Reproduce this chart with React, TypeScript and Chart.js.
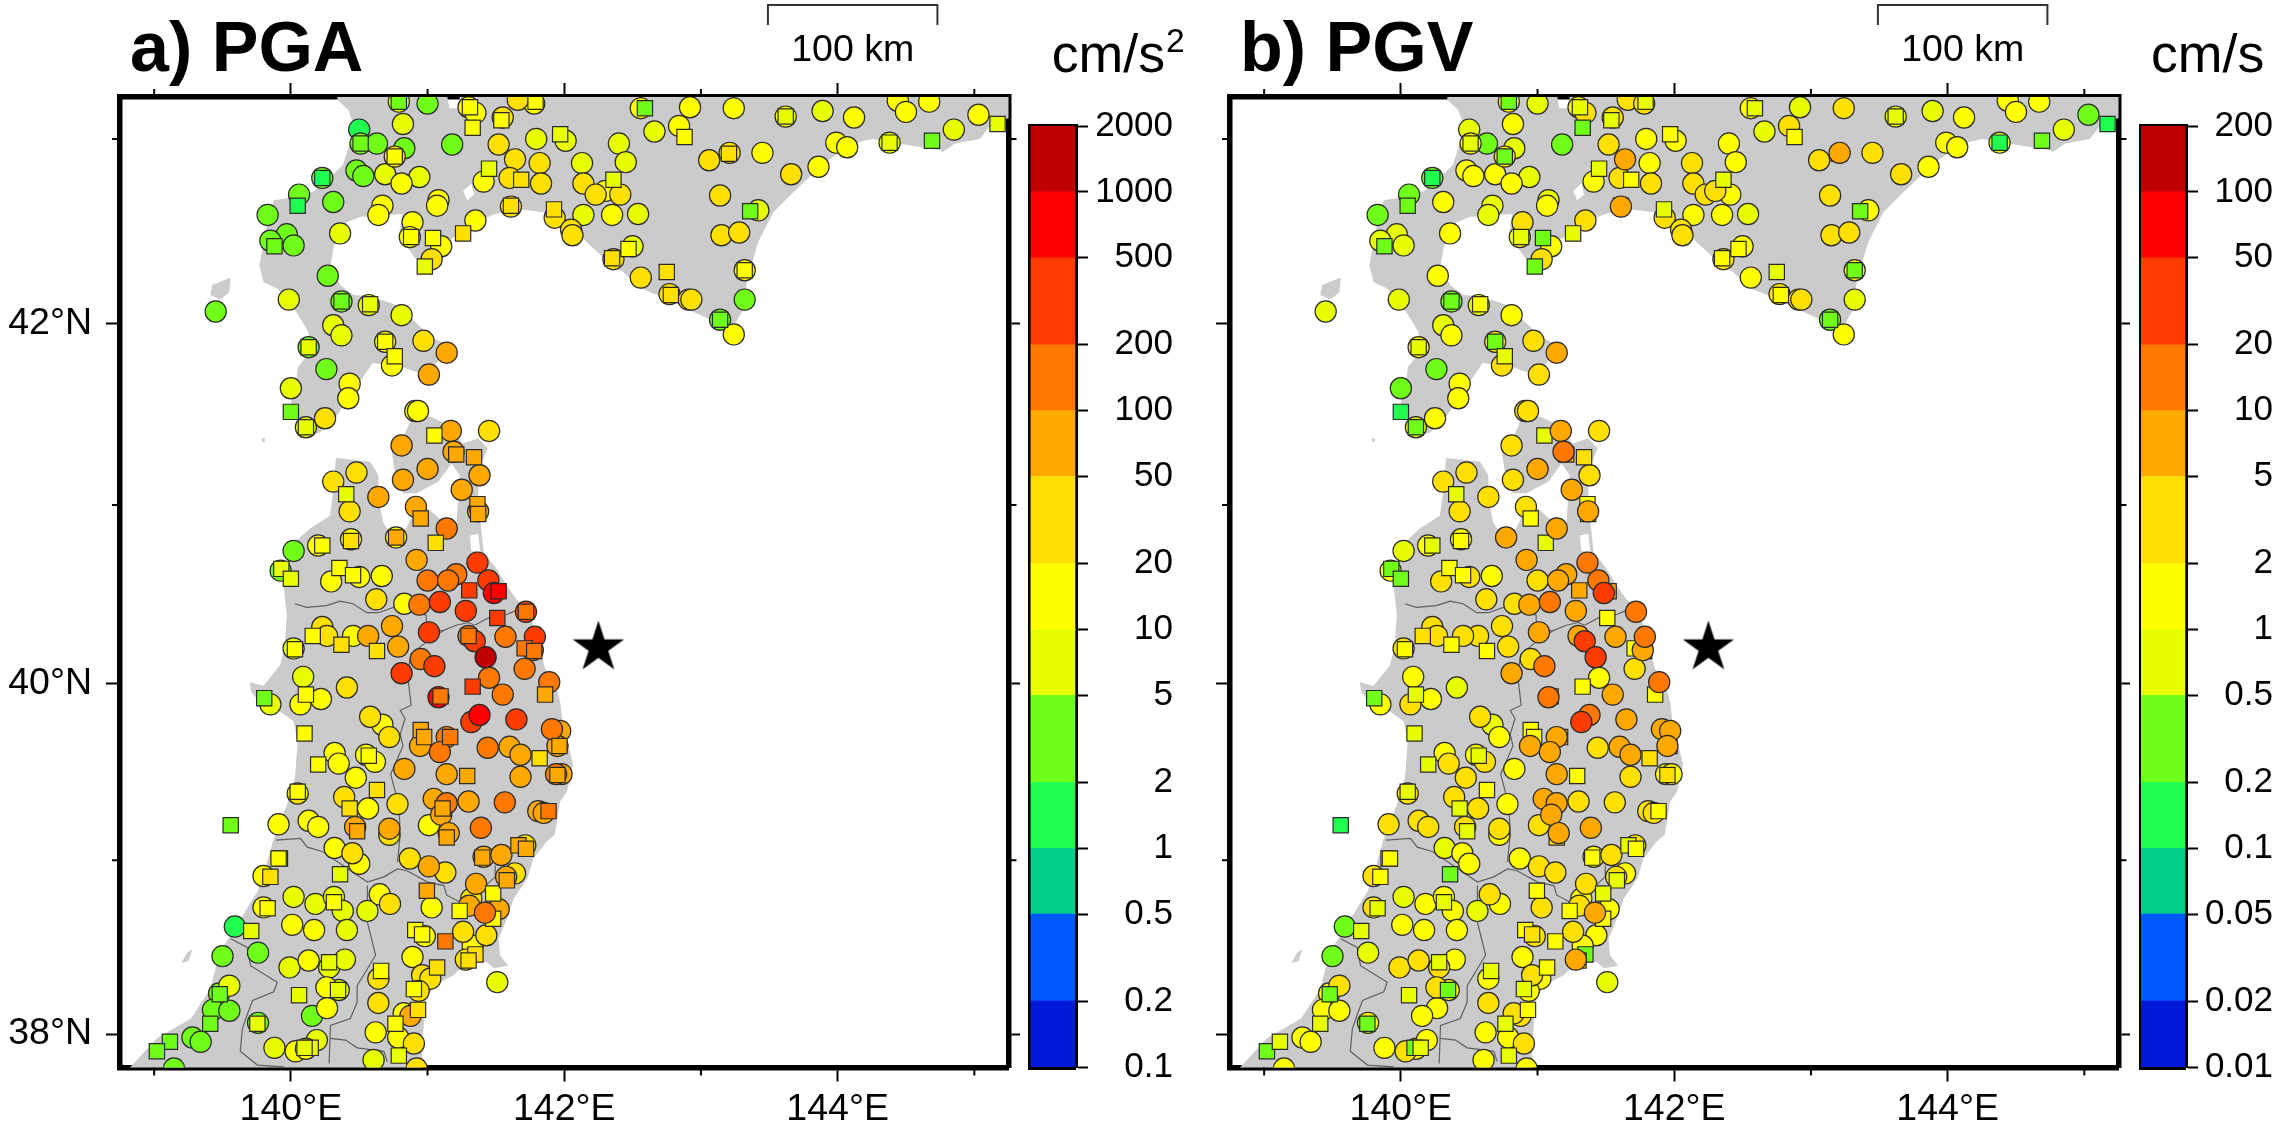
import React, { useEffect, useRef } from "react";
import { Chart, registerables } from "chart.js";

Chart.register(...registerables);

const FONT = '"Liberation Sans", Arial, Helvetica, sans-serif';

// ---- axes ----
const lonMin = 138.75, lonMax = 145.25;
const latMin = 37.806, latMax = 43.225;
const majorLons = [140, 142, 144];
const minorLons = [139, 141, 143, 145];
const majorLats = [38, 40, 42];
const minorLats = [39, 41, 43];

// ---- colour scale ----
const bandColors = ["#0018d8", "#0058ff", "#00d08c", "#20ff50", "#70ff18", "#e8ff00", "#ffff00", "#ffe000", "#ffa800", "#ff7800", "#ff3c00", "#ff0000", "#c00000"];
const pgaTicks = [0.1, 0.2, 0.5, 1, 2, 5, 10, 20, 50, 100, 200, 500, 1000, 2000];
const pgvTicks = [0.01, 0.02, 0.05, 0.1, 0.2, 0.5, 1, 2, 5, 10, 20, 50, 100, 200];

// ---- epicentre and scale bar ----
const starLon = 142.25, starLat = 40.21;
const scaleBarLons = [143.49, 144.73];

// ---- stations ----
const stationLons = [
140.79,140.79,141.00,140.82,141.30,141.35,141.31,141.33,141.55,141.54,
141.66,141.78,141.79,141.18,140.50,140.51,140.51,140.63,140.83,140.76,
140.76,141.52,141.795,142.01,141.97,142.40,142.13,142.45,141.64,141.82,
141.45,141.41,141.60,141.685,141.83,142.14,142.36,142.23,142.30,142.41,
142.35,142.54,142.14,141.61,141.61,141.925,141.93,142.05,142.06,142.36,
142.35,142.50,142.47,142.56,142.75,142.77,142.78,142.91,142.93,143.14,
143.14,143.24,143.32,143.32,143.32,143.36,143.42,143.14,143.15,143.28,
143.06,143.21,143.205,143.45,143.66,143.86,143.99,144.07,144.38,144.38,
144.69,144.85,145.03,145.17,144.67,144.44,144.50,144.12,143.89,143.62,
143.62,143.24,142.92,142.56,142.59,142.84,142.88,142.66,140.23,140.23,
140.06,140.05,140.31,139.83,139.97,139.85,140.02,139.88,140.36,140.48,
140.53,140.69,140.81,140.94,141.08,141.07,140.67,140.64,140.89,140.87,
140.88,141.04,141.10,141.03,140.98,141.26,141.35,140.27,139.985,140.37,
140.37,140.57,140.58,140.81,139.45,140.31,140.37,140.13,140.13,140.69,
140.69,140.97,141.14,141.01,140.74,140.76,140.26,140.00,140.43,140.42,
140.00,140.25,140.11,140.11,140.91,140.93,141.05,141.17,141.45,140.81,
141.19,141.21,141.34,141.00,140.82,141.38,141.25,141.37,141.365,141.37,
140.915,140.95,141.14,141.06,140.92,140.77,140.77,140.64,140.48,140.31,
140.405,140.43,140.44,140.44,140.20,140.23,140.02,139.925,139.93,140.00,
140.295,140.355,140.50,140.455,140.665,140.625,140.83,140.94,141.09,141.00,
141.21,141.15,141.365,141.445,141.485,141.52,141.305,141.28,141.51,141.72,
141.72,141.01,140.74,140.565,140.455,140.23,140.265,140.16,140.02,140.03,
140.37,140.63,140.785,140.95,141.05,140.81,141.30,141.345,141.30,141.425,
141.57,141.785,141.71,141.78,141.77,141.71,141.89,141.86,141.33,141.45,
141.55,141.08,141.095,141.38,141.32,141.65,141.91,141.97,141.95,141.965,
141.82,141.60,141.68,141.44,140.95,140.975,141.14,141.165,140.945,141.09,
140.58,140.67,140.72,140.41,140.09,140.11,140.07,140.22,139.85,139.805,
140.10,140.32,140.35,140.20,140.55,140.57,140.615,140.475,140.83,141.14,
141.29,141.68,141.95,141.94,141.98,140.05,140.05,140.39,140.43,140.565,
140.63,140.78,141.045,141.14,141.11,141.10,141.30,141.565,141.81,141.85,
141.885,141.39,139.56,139.91,140.13,140.20,140.47,140.485,140.72,140.72,
141.01,141.155,141.14,140.32,140.45,140.50,139.92,139.91,139.80,139.85,
140.36,140.87,141.01,141.13,141.41,141.40,141.54,141.665,141.72,141.715,
141.355,141.575,141.64,141.58,140.995,141.03,140.65,140.725,140.56,140.02,
140.18,140.315,140.315,140.38,139.80,139.83,141.48,141.32,141.305,141.42,
141.52,141.235,141.48,139.59,139.71,140.01,140.17,140.41,139.76,139.50,
140.91,140.96,140.98,141.13,141.26,141.43,141.33,141.35,141.28,141.30,
139.99,140.13,140.28,140.28,140.395,140.89,141.07,140.96,141.02,140.66,
140.64,139.55,139.475,139.48,140.26,140.345,140.35,140.06,140.265,140.155,
140.64,140.90,140.935,140.875,140.825,140.93,139.43,139.55,139.41,139.76,
139.755,139.28,139.34,139.115,139.02,139.145,139.88,140.035,140.11,140.145,
140.10,140.19,140.62,140.765,140.785,140.90,140.605,140.79,140.92,141.51,
];

const stationLats = [
43.20,43.20,43.19,43.08,43.17,43.14,43.17,43.06,43.115,43.10,
43.21,43.19,43.20,42.97,43.05,42.975,42.975,42.975,42.95,42.905,
42.905,42.97,43.00,42.99,43.025,42.975,42.87,42.875,42.89,42.87,
42.84,42.77,42.79,42.78,42.76,42.76,42.78,42.70,42.72,42.70,
42.59,42.595,42.59,42.635,42.64,42.62,42.575,42.51,42.48,42.35,
42.355,42.42,42.405,42.25,42.28,42.16,42.155,42.13,42.13,42.02,
42.02,41.94,42.13,42.29,42.29,42.61,42.615,42.695,42.48,42.495,
42.885,42.925,42.92,42.925,42.81,42.85,42.98,42.955,42.98,42.98,
42.99,43.05,43.13,43.08,43.20,43.205,43.145,43.115,43.15,43.12,
43.12,43.165,43.17,43.165,43.165,43.07,43.01,43.04,42.79,42.79,
42.70,42.64,42.66,42.59,42.485,42.45,42.425,42.42,42.49,42.83,
42.80,42.81,42.76,42.795,42.67,42.64,42.64,42.59,42.55,42.47,
42.47,42.465,42.42,42.35,42.31,42.49,42.56,42.26,42.13,42.12,
42.12,42.10,42.105,42.045,42.065,41.99,41.935,41.87,41.87,41.90,
41.90,41.905,41.84,41.72,41.77,41.82,41.75,41.645,41.67,41.59,
41.515,41.48,41.43,41.43,41.52,41.52,41.385,41.41,41.41,41.33,
41.295,41.28,41.265,41.20,41.14,41.165,41.085,40.965,41.005,40.95,
40.99,40.925,40.87,40.79,40.695,40.82,40.82,41.045,41.18,41.13,
41.06,40.965,40.81,40.80,40.775,40.775,40.745,40.635,40.645,40.59,
40.575,40.65,40.60,40.61,40.605,40.475,40.45,40.445,40.46,40.58,
40.615,40.58,40.68,40.58,40.51,40.52,40.525,40.41,40.37,40.405,
40.405,40.29,40.325,40.27,40.27,40.32,40.27,40.27,40.20,40.195,
40.22,40.185,40.21,40.14,40.10,40.06,40.27,40.24,40.27,40.15,
40.265,40.265,40.20,40.185,40.19,40.085,40.01,39.94,39.985,40.035,
39.94,39.925,39.93,39.825,39.785,39.80,39.745,39.735,39.65,39.65,
39.58,39.645,39.60,39.64,39.74,39.70,39.70,39.70,39.65,39.615,
39.815,39.77,39.70,39.98,40.04,39.94,39.885,39.915,39.885,39.92,
39.72,39.61,39.55,39.545,39.60,39.595,39.56,39.47,39.52,39.49,
39.48,39.475,39.485,39.49,39.49,39.38,39.39,39.36,39.295,39.295,
39.40,39.32,39.35,39.325,39.295,39.26,39.335,39.33,39.28,39.27,
39.28,39.185,39.20,39.205,39.225,39.19,39.19,39.165,39.18,39.145,
39.20,39.155,39.13,39.07,39.04,38.98,39.01,39.01,38.91,38.905,
38.92,39.01,38.965,38.93,39.02,39.015,39.03,39.085,39.065,39.085,
38.865,38.905,38.925,38.885,38.825,38.73,38.805,38.75,38.71,38.79,
38.75,38.79,38.76,38.71,38.73,38.725,38.81,38.78,38.74,38.70,
38.72,38.71,38.665,38.62,38.595,38.63,38.60,38.60,38.47,38.45,
38.60,38.575,38.565,38.535,38.59,38.57,38.51,38.46,38.43,38.425,
38.385,38.425,38.415,38.385,38.43,38.445,38.385,38.34,38.32,38.365,
38.32,38.28,38.235,38.23,38.27,38.255,38.255,38.225,38.15,38.105,
38.18,38.26,38.25,38.105,38.12,38.14,38.14,38.135,38.06,38.065,
38.06,37.98,37.955,37.955,37.90,37.80,37.92,37.90,37.915,37.92,
37.92,37.965,38.01,38.06,37.98,37.945,37.85,37.875,37.80,38.30,
];

// c = circle, s = square, t = circle plotted over the squares
const stationKinds = [
"csccccsscs","ccscccsccc","scccsccccc","sccsccsccc","ccccsscccc","scscscsccc","scccsscccc",
"ccsccccccs","sccscccccc","scccscsccs","cscccccscc","cccccccccc","ssccsscccc","scscccccsc",
"sccccscccc","sccsccsccc","csscccccss","cscsccsccc","sccscsccss","cscscccccc","cccccsscsc",
"sccccccscs","ssccccccsc","ccsscccssc","ccsccccccs","scccsscscc","cccccscccs","sccscscccc",
"scscccscsc","scccsccccc","scsccccscc","ccscccsscs","sccccscssc","cccssccccc","ccsccsscct",
"csscsccccc","sscscccscs","ccscccsccs","cccscscscc","cscccsccsc","sccssccccs","sccscccscc",
].join("").split("");

const pgaValues = [
7,3,3,7,15,15,15,15,30,15, 30,15,15,3,1.5,3,3,3,3,30, 15,30,7,7,7,7,7,7,30,30, 7,15,30,30,30,30,7,30,15,30,
15,7,7,30,30,30,30,30,30,30, 30,7,15,30,30,30,30,30,30,3, 3,15,3,15,15,3,7,30,30,30, 30,30,30,15,30,15,15,15,7,7,
3,7,15,7,15,15,15,15,7,15, 7,15,15,15,3,15,15,7,3,1.5, 3,1.5,3,3,3,3,3,3,7,3, 3,7,15,7,15,15,15,15,15,15,
15,15,15,30,7,30,15,3,7,3, 3,7,7,7,3,7,7,3,7,15, 15,30,70,70,15,15,3,7,15,15, 3,30,7,7,15,15,15,70,30,70,
70,70,70,70,70,70,70,70,70,70, 70,70,150,30,70,15,70,70,30,30, 7,30,15,30,15,15,3,3,7,7, 15,15,15,15,15,30,15,150,300,150,
150,150,300,300,700,700,300,300,300,300, 150,300,70,70,15,30,30,15,7,15, 30,30,70,150,300,300,150,300,150,1500, 150,300,150,150,150,150,150,70,300,150,
150,700,150,700,300,300,150,70,70,70, 30,70,70,150,70,70,150,150,70,150, 30,15,30,30,7,15,15,15,7,3, 15,15,15,15,15,15,15,15,70,70,
70,70,70,150,70,30,15,30,30,15, 30,30,70,150,70,70,70,150,70,70, 150,150,3,15,15,15,70,70,70,30, 15,70,70,15,30,15,3,15,15,30,
7,30,70,30,70,70,70,70,70,30, 70,70,30,70,70,15,15,30,7,7, 7,7,15,7,15,15,15,30,70,150, 70,15,15,1.5,7,15,15,7,3,3,
15,15,15,150,30,30,15,30,30,30, 7,15,7,7,7,15,30,30,30,15, 30,7,3,3,15,7,7,7,15,3, 30,15,30,70,15,30,3,3,3,3,
7,3,3,3,3,3,7,15,15,7, 7,7,15,15,15,30,7,7,30,7,
];

const pgvValues = [
1.5,.3,.7,1.5,1.5,3,.7,.3,3,.7, 3,3,.7,.3,.7,1.5,.7,.3,.7,3, .3,3,1.5,1.5,1.5,1.5,3,1.5,7,1.5, .7,1.5,3,1.5,3,3,.7,3,3,1.5,
1.5,.7,1.5,7,3,.7,3,3,3,3, 1.5,1.5,1.5,1.5,.7,3,1.5,3,3,.3, .3,1.5,.7,1.5,.3,.3,1.5,3,3,3, 3,7,3,3,3,1.5,1.5,1.5,.7,.15,
.3,.7,.3,.15,1.5,1.5,1.5,1.5,.7,.7, .7,3,.7,1.5,.7,3,1.5,.7,.3,.15, .3,.3,1.5,.3,.7,.7,.7,.3,1.5,1.5, 1.5,1.5,1.5,.7,.7,1.5,.7,.7,3,1.5,
.7,.3,1.5,3,.3,.7,3,1.5,.7,.3, .3,.7,1.5,1.5,.7,.7,1.5,1.5,.7,3, .3,3,7,3,3,.7,.3,.3,1.5,1.5, .15,1.5,.7,.3,3,3,.7,7,3,3,
15,7,3,7,3,3,7,7,1.5,1.5, 3,1.5,7,.7,7,7,7,3,3,3, .7,3,1.5,1.5,1.5,.7,.7,1.5,.3,.3, 3,1.5,3,1.5,1.5,3,3,7,15,3,
7,7,15,15,30,7,7,7,1.5,15, 3,7,3,3,3,3,3,3,3,1.5, 1.5,1.5,3,3,15,7,7,30,7,30, 7,15,1.5,7,7,3,15,1.5,1.5,1.5,
7,15,7,15,30,7,7,7,7,3, 3,7,7,3,1.5,1.5,7,7,7,7, 3,.7,1.5,.7,1.5,.7,3,1.5,1.5,.3, .7,1.5,3,.7,1.5,.7,3,3,1.5,7,
1.5,3,3,1.5,1.5,3,.7,3,.7,3, 1.5,1.5,7,7,3,7,3,3,3,3, 1.5,7,.15,3,3,3,3,.7,3,1.5, 3,7,3,.7,1.5,1.5,1.5,.7,3,1.5,
.3,1.5,3,3,1.5,1.5,3,.7,1.5,3, 3,3,1.5,.7,1.5,3,3,1.5,.7,.7, 1.5,1.5,.7,1.5,3,.7,.7,1.5,3,7, 1.5,1.5,1.5,.3,.7,1.5,1.5,1.5,.7,.3,
1.5,3,3,1.5,3,1.5,1.5,.3,7,3, 3,3,.7,3,1.5,1.5,1.5,3,1.5,.7, 1.5,3,1.5,.3,3,.3,1.5,.7,1.5,1.5, 3,.7,1.5,3,3,1.5,1.5,1.5,.7,1.5,
.3,1.5,1.5,.7,.3,1.5,1.5,3,1.5,.7, .3,1.5,1.5,.7,1.5,3,1.5,.7,1.5,.7,
];

// ---- land outlines (lon, lat) ----
const hokkaidoLons = [140.34,140.42,140.46,140.42,140.38,140.29,140.17,140.02,139.875,139.84,139.8,139.77,139.8,139.9,139.97,140.05,140.13,140.115,140.05,140.04,140.0,140.03,140.1,140.21,140.3,140.36,140.55,140.6,140.7,140.82,140.93,141.07,141.14,141.02,140.9,140.77,140.68,140.55,140.46,140.36,140.29,140.315,140.41,140.51,140.815,140.79,140.91,141.05,141.14,141.29,141.46,141.63,141.85,142.0,142.14,142.29,142.36,142.43,142.56,142.75,142.91,143.1,143.24,143.3,143.34,143.42,143.53,143.68,143.91,144.11,144.255,144.49,144.74,144.77,144.86,145.04,145.11,145.3,145.3,141.25,141.23,141.16,141.1,140.34];
const hokkaidoLats = [43.21,43.155,43.075,42.95,42.86,42.795,42.72,42.685,42.67,42.59,42.445,42.315,42.225,42.19,42.135,42.05,41.95,41.82,41.76,41.675,41.565,41.51,41.38,41.4,41.455,41.52,41.73,41.785,41.77,41.76,41.73,41.785,41.88,41.93,42.015,42.1,42.125,42.15,42.155,42.21,42.315,42.425,42.55,42.58,42.595,42.48,42.355,42.315,42.445,42.515,42.585,42.625,42.605,42.5,42.46,42.355,42.315,42.28,42.19,42.135,42.075,42.01,41.985,42.065,42.245,42.445,42.605,42.715,42.875,42.975,43.0,42.97,42.94,42.93,42.975,43.0,43.065,43.13,43.4,43.4,43.165,43.165,43.4,43.4];
const honshuLons = [140.33,140.58,140.64,140.64,140.675,140.71,140.835,140.89,140.895,141.02,141.115,141.21,141.225,141.235,141.175,141.08,140.92,140.82,140.77,140.735,140.82,140.88,141.02,141.14,141.26,141.37,141.44,141.38,141.37,141.39,141.41,141.505,141.59,141.65,141.725,141.785,141.82,141.86,141.93,141.97,141.99,142.03,142.065,142.02,141.97,141.93,141.87,141.775,141.73,141.63,141.58,141.52,141.53,141.59,141.485,141.435,141.29,141.19,141.045,140.985,140.97,140.96,140.96,138.7,138.84,139.02,139.27,139.41,139.46,139.51,139.66,139.755,139.8,139.875,139.97,140.03,140.05,140.02,139.92,139.8,139.71,139.7,139.8,139.92,139.955,139.97,139.955,139.945,139.97,140.03,140.14,140.285,140.31,140.33];
const honshuLats = [41.26,41.24,41.165,41.035,40.905,40.86,40.86,40.94,41.035,40.97,40.905,40.885,41.055,41.165,41.23,41.13,41.065,41.065,41.13,41.315,41.37,41.475,41.49,41.445,41.34,41.37,41.315,41.205,41.055,40.885,40.74,40.645,40.54,40.475,40.42,40.31,40.2,40.085,40.01,39.9,39.77,39.655,39.545,39.39,39.335,39.145,39.105,39.01,38.895,38.78,38.665,38.55,38.455,38.395,38.38,38.415,38.415,38.34,38.28,38.185,38.03,37.88,37.7,37.7,37.82,37.975,38.09,38.26,38.415,38.51,38.7,38.82,38.915,39.125,39.315,39.47,39.675,39.79,39.845,39.87,39.955,40.01,39.99,40.105,40.215,40.385,40.495,40.57,40.68,40.795,40.87,40.94,41.07,41.26];
const okushiriLons = [139.425,139.56,139.55,139.485,139.41];
const okushiriLats = [42.21,42.25,42.17,42.13,42.155];
const awashimaLons = [139.2,139.24,139.28,139.25];
const awashimaLats = [38.41,38.47,38.49,38.42];
const oshimaLons = [139.785,139.81,139.81,139.79];
const oshimaLats = [41.37,41.37,41.35,41.35];
const toyaLons = [141.26,141.32,141.34,141.29];
const toyaLats = [42.72,42.76,42.7,42.67];
const ogawaraLons = [141.31,141.37,141.385,141.32];
const ogawaraLats = [40.83,40.84,40.74,40.745];

// ---- prefecture boundaries (lon, lat) ----
const aomoriAkitaLons = [140.03,140.115,140.26,140.36,140.455,140.555,140.64,140.75,140.895,140.99,140.99];
const aomoriAkitaLats = [40.45,40.43,40.44,40.465,40.45,40.4,40.4,40.43,40.42,40.385,40.355];
const aomoriIwateLons = [140.99,141.04,141.115,141.21,141.3,141.345,141.455,141.58,141.64];
const aomoriIwateLats = [40.355,40.3,40.3,40.33,40.345,40.33,40.375,40.39,40.41];
const akitaIwateLons = [141.115,140.99,140.88,140.86,140.86,140.88,140.8,140.835,140.8,140.82,140.75,140.73,140.79,140.8,140.78];
const akitaIwateLats = [40.3,40.235,40.17,40.085,40.01,39.88,39.85,39.805,39.715,39.65,39.525,39.49,39.315,39.145,38.99];
const akitaYamagataLons = [139.89,140.07,140.12,140.23,140.485,140.56,140.68,140.78,140.85,141.0,141.12,141.14,141.24];
const akitaYamagataLats = [39.115,39.125,39.075,39.05,38.915,38.875,38.905,38.95,38.94,38.875,38.855,38.8,38.76];
const iwateCoastLons = [141.495,141.495,141.41];
const iwateCoastLats = [38.97,38.905,38.845];
const yamagataMiyagiLons = [140.56,140.56,140.62,140.485,140.485,140.435,140.29,140.28];
const yamagataMiyagiLats = [38.855,38.645,38.455,38.28,38.185,38.09,38.05,37.83];
const niigataYamagataLons = [139.56,139.68,139.705,139.9,139.875,139.72,139.68,139.645,139.63,139.755,139.95];
const niigataYamagataLats = [38.55,38.5,38.395,38.3,38.245,38.195,38.11,38.03,37.9,37.82,37.81];
const fukushimaMiyagiLons = [140.29,140.4,140.485,140.68,140.705];
const fukushimaMiyagiLats = [37.975,37.965,37.92,37.9,37.84];

const merc = (lat: number) => Math.log(Math.tan(Math.PI / 4 + (lat * Math.PI) / 360));
const pts = (lons: number[], lats: number[]) => lons.map((x, i) => ({ x, y: merc(lats[i]) }));

function makeStar() {
  const c = document.createElement("canvas");
  c.width = 56;
  c.height = 56;
  const g = c.getContext("2d")!;
  g.fillStyle = "#000";
  g.beginPath();
  for (let i = 0; i < 10; i++) {
    const r = i % 2 === 0 ? 27 : 10.3;
    const a = -Math.PI / 2 + (i * Math.PI) / 5;
    const x = 28 + r * Math.cos(a);
    const y = 29 + r * Math.sin(a);
    if (i === 0) g.moveTo(x, y);
    else g.lineTo(x, y);
  }
  g.closePath();
  g.fill();
  return c;
}

function bandColor(v: number, ticks: number[]) {
  for (let i = 0; i < bandColors.length; i++) if (v < ticks[i + 1]) return bandColors[i];
  return bandColors[bandColors.length - 1];
}

function mapConfig(title: string, values: number[], ticks: number[], topFrom: number, star: HTMLCanvasElement, latLabels: boolean): any {
  const stations = stationLons.map((x, i) => ({ x, y: merc(stationLats[i]), kind: stationKinds[i], v: values[i] }));
  const pick = (f: (s: any) => boolean) => stations.filter(f).sort((a, b) => a.v - b.v);
  const isTop = (s: any) => s.kind === "t" || (s.kind === "c" && s.v >= topFrom);
  const marks = (data: any[], pointStyle: string, pointRadius: number, order: number) => ({
    data,
    pointStyle,
    pointRadius,
    pointBackgroundColor: data.map((s) => bandColor(s.v, ticks)),
    pointBorderColor: "#2a2a2a",
    pointBorderWidth: 1.2,
    showLine: false,
    clip: 0,
    order,
  });
  const land = (lons: number[], lats: number[], color: string, order: number) => ({
    data: pts(lons, lats),
    showLine: true,
    fill: "shape",
    backgroundColor: color,
    borderWidth: 0,
    borderColor: "rgba(0,0,0,0)",
    pointRadius: 0,
    clip: 0,
    order,
  });
  const boundary = (lons: number[], lats: number[]) => ({
    data: pts(lons, lats),
    showLine: true,
    fill: false,
    borderColor: "#606060",
    borderWidth: 1.2,
    pointRadius: 0,
    clip: 0,
    order: 8,
  });
  const axis = (position: string, major: number[], min: number, max: number, size: number, labels?: (i: number) => string) => ({
    type: "linear",
    position,
    min,
    max,
    border: { display: true, width: 5.5, color: "#000" },
    grid: { drawOnChartArea: false, tickLength: 14, tickWidth: 2, tickColor: "#000" },
    afterBuildTicks: (a: any) => {
      a.ticks = major.map((value) => ({ value }));
    },
    afterFit: (a: any) => {
      if (position === "left" || position === "right") a.width = size;
      else a.height = size;
    },
    ticks: {
      display: !!labels,
      autoSkip: false,
      maxRotation: 0,
      minRotation: 0,
      padding: position === "left" ? 14 : 5.5,
      color: "#000",
      font: { family: FONT, size: 37.5 },
      callback: (_v: any, i: number) => (labels ? labels(i) : ""),
    },
  });
  const mercMajor = majorLats.map(merc);
  return {
    type: "scatter",
    data: {
      datasets: [
        land(hokkaidoLons, hokkaidoLats, "#cbcbcb", 20),
        land(honshuLons, honshuLats, "#cbcbcb", 20),
        land(okushiriLons, okushiriLats, "#cbcbcb", 20),
        land(awashimaLons, awashimaLats, "#cbcbcb", 20),
        land(oshimaLons, oshimaLats, "#cbcbcb", 20),
        land(toyaLons, toyaLats, "#ffffff", 10),
        land(ogawaraLons, ogawaraLats, "#ffffff", 10),
        boundary(aomoriAkitaLons, aomoriAkitaLats),
        boundary(aomoriIwateLons, aomoriIwateLats),
        boundary(akitaIwateLons, akitaIwateLats),
        boundary(akitaYamagataLons, akitaYamagataLats),
        boundary(iwateCoastLons, iwateCoastLats),
        boundary(yamagataMiyagiLons, yamagataMiyagiLats),
        boundary(niigataYamagataLons, niigataYamagataLats),
        boundary(fukushimaMiyagiLons, fukushimaMiyagiLats),
        marks(pick((s) => s.kind !== "s" && !isTop(s)), "circle", 10.6, 6),
        marks(pick((s) => s.kind === "s"), "rect", 10.8, 5),
        marks(pick(isTop), "circle", 10.6, 4),
        {
          data: [{ x: starLon, y: merc(starLat) }],
          pointStyle: star,
          pointRadius: 10,
          pointBorderWidth: 0,
          showLine: false,
          order: 1,
        },
      ],
    },
    options: {
      responsive: false,
      animation: false,
      devicePixelRatio: 1,
      events: [],
      layout: { padding: 0, autoPadding: false },
      plugins: { legend: { display: false }, tooltip: { enabled: false }, title: { display: false } },
      scales: {
        x: axis("bottom", majorLons, lonMin, lonMax, 63.5, (i) => `${majorLons[i]}°E`),
        xTop: axis("top", majorLons, lonMin, lonMax, 97),
        y: axis("left", mercMajor, merc(latMin), merc(latMax), 120, latLabels ? (i) => `${majorLats[i]}°N` : undefined),
        yRight: axis("right", mercMajor, merc(latMin), merc(latMax), 11.5),
      },
    },
    plugins: [
      {
        id: "mapDecor",
        afterDraw(chart: any) {
          const { ctx, chartArea: a, scales } = chart;
          ctx.save();
          ctx.strokeStyle = "#000";
          ctx.lineWidth = 2;
          ctx.beginPath();
          minorLons.forEach((lon) => {
            const x = scales.x.getPixelForValue(lon);
            if (x > a.right) return;
            ctx.moveTo(x, a.top - 8);
            ctx.lineTo(x, a.top);
            ctx.moveTo(x, a.bottom + 8);
            ctx.lineTo(x, a.bottom);
          });
          minorLats.forEach((lat) => {
            const y = scales.y.getPixelForValue(merc(lat));
            ctx.moveTo(a.left - 8, y);
            ctx.lineTo(a.left, y);
            ctx.moveTo(a.right + 8, y);
            ctx.lineTo(a.right, y);
          });
          ctx.stroke();
          // scale bar
          const x0 = scales.x.getPixelForValue(scaleBarLons[0]);
          const x1 = scales.x.getPixelForValue(scaleBarLons[1]);
          ctx.strokeStyle = "#333";
          ctx.beginPath();
          ctx.moveTo(x0, 25);
          ctx.lineTo(x0, 5);
          ctx.lineTo(x1, 5);
          ctx.lineTo(x1, 25);
          ctx.stroke();
          ctx.fillStyle = "#000";
          ctx.textAlign = "center";
          ctx.textBaseline = "alphabetic";
          ctx.font = `37.5px ${FONT}`;
          ctx.fillText("100 km", (x0 + x1) / 2, 61);
          // panel title
          ctx.textAlign = "left";
          ctx.font = `bold 70px ${FONT}`;
          ctx.fillText(title, a.left + 10, 70.7);
          ctx.restore();
        },
      },
    ],
  };
}

function barConfig(ticks: number[], unit: string, sup: string, width: number, left: number, labelRight: number): any {
  const right = 55.4;
  const edge = (position: string, size: number) => ({
    position,
    border: { display: true, width: 5, color: "#000" },
    grid: { drawOnChartArea: false, drawTicks: false },
    ticks: { display: false },
    afterFit: (a: any) => {
      if (position === "left" || position === "right") a.width = size;
      else a.height = size;
    },
  });
  return {
    type: "bar",
    data: {
      labels: [""],
      datasets: bandColors.map((color, i) => ({
        data: [[ticks[i], ticks[i + 1]]],
        backgroundColor: color,
        borderWidth: 0,
        barPercentage: 1,
        categoryPercentage: 1,
        grouped: false,
      })),
    },
    options: {
      responsive: false,
      animation: false,
      devicePixelRatio: 1,
      events: [],
      layout: { padding: { right: width - labelRight }, autoPadding: false },
      plugins: { legend: { display: false }, tooltip: { enabled: false }, title: { display: false } },
      scales: {
        x: { type: "category", labels: [""], offset: true, ...edge("bottom", 64) },
        xTop: { type: "category", labels: [""], offset: true, ...edge("top", 126) },
        yLeft: { type: "logarithmic", min: ticks[0], max: ticks[13], ...edge("left", left) },
        y: {
          type: "logarithmic",
          position: "right",
          min: ticks[0],
          max: ticks[13],
          border: { display: true, width: 5, color: "#000" },
          grid: { drawOnChartArea: false, tickLength: 12.6, tickWidth: 2, tickColor: "#000" },
          afterBuildTicks: (a: any) => {
            a.ticks = ticks.map((value) => ({ value }));
          },
          afterFit: (a: any) => {
            a.width = labelRight - right;
          },
          ticks: {
            autoSkip: false,
            crossAlign: "far",
            color: "#000",
            font: { family: FONT, size: 35 },
            callback: (_v: any, i: number) => String(ticks[i]),
          },
        },
      },
    },
    plugins: [
      {
        id: "unitLabel",
        afterDraw(chart: any) {
          const { ctx } = chart;
          ctx.save();
          ctx.fillStyle = "#000";
          ctx.textBaseline = "alphabetic";
          ctx.textAlign = "left";
          ctx.font = `53.7px ${FONT}`;
          const x = sup ? 31.7 : 21;
          ctx.fillText(unit, x, 71.6);
          if (sup) {
            const w = ctx.measureText(unit).width;
            ctx.font = `33.6px ${FONT}`;
            ctx.fillText(sup, x + w + 1, 51.7);
          }
          ctx.restore();
        },
      },
    ],
  };
}

export default function App() {
  const mapA = useRef<HTMLCanvasElement>(null);
  const mapB = useRef<HTMLCanvasElement>(null);
  const barA = useRef<HTMLCanvasElement>(null);
  const barB = useRef<HTMLCanvasElement>(null);

  useEffect(() => {
    const star = makeStar();
    const charts = [
      new Chart(mapA.current!, mapConfig("a) PGA", pgaValues, pgaTicks, Infinity, star, true)),
      new Chart(mapB.current!, mapConfig("b) PGV", pgvValues, pgvTicks, 7, star, false)),
      new Chart(barA.current!, barConfig(pgaTicks, "cm/s", "2", 180, 10.5, 153)),
      new Chart(barB.current!, barConfig(pgvTicks, "cm/s", "", 161, 11, 143)),
    ];
    return () => charts.forEach((c) => c.destroy());
  }, []);

  const at = (left: number): React.CSSProperties => ({ position: "absolute", left, top: 0 });
  return (
    <div style={{ position: "fixed", left: 0, top: 0, width: 2291, height: 1131, background: "#fff", overflow: "hidden" }}>
      <canvas ref={mapA} width={1020} height={1131} style={at(0)} />
      <canvas ref={barA} width={180} height={1131} style={at(1020)} />
      <canvas ref={mapB} width={1020} height={1131} style={at(1110)} />
      <canvas ref={barB} width={161} height={1131} style={at(2130)} />
    </div>
  );
}
